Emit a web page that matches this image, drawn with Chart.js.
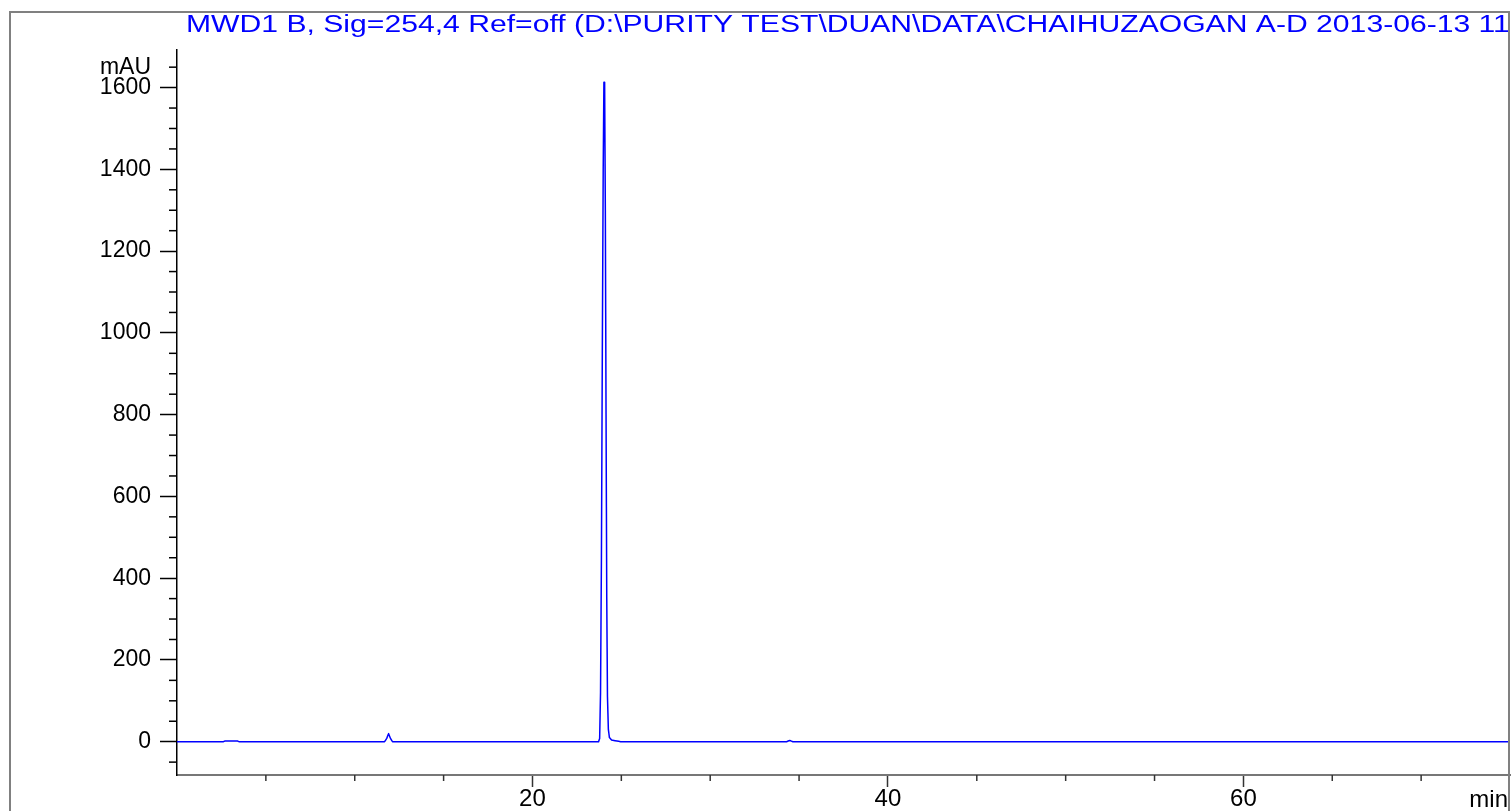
<!DOCTYPE html>
<html>
<head>
<meta charset="utf-8">
<title>MWD1 B chromatogram</title>
<script src="https://cdn.jsdelivr.net/npm/chart.js@4/dist/chart.umd.min.js"></script>
<style>
  html, body { margin: 0; padding: 0; background: #fff; }
</style>
</head>
<body>
<canvas id="chromatogram" width="1511" height="811"></canvas>
<script>
const titleText = 'MWD1 B, Sig=254,4 Ref=off (D:\\PURITY TEST\\DUAN\\DATA\\CHAIHUZAOGAN A-D 2013-06-13 11';
const yUnit = 'mAU';
const xUnit = 'min';

// retention time (min) and signal (mAU)
const times  = [0, 2.6, 2.7, 3.4, 3.5, 11.68, 11.8, 11.9, 12.0, 12.12,
                23.72, 23.78, 23.83, 23.88, 23.93, 23.98, 24.02, 24.06, 24.1, 24.14,
                24.18, 24.22, 24.27, 24.33, 24.45, 24.85, 24.96, 34.3, 34.48, 34.65, 75];
const signal = [0, 0, 1.5, 1.5, 0, 0, 8, 20, 9, 0,
                0, 8, 120, 450, 950, 1400, 1613, 1613, 1300, 800,
                350, 110, 30, 10, 4, 1, 0, 0, 3, 0, 0];

// axis ticks
const yTicks = [-50, 0, 50, 100, 150, 200, 250, 300, 350, 400, 450, 500, 550, 600, 650, 700, 750, 800,
                850, 900, 950, 1000, 1050, 1100, 1150, 1200, 1250, 1300, 1350, 1400, 1450, 1500, 1550, 1600, 1650];
const yLabelTicks = [0, 200, 400, 600, 800, 1000, 1200, 1400, 1600];
const xTicks = [5, 10, 15, 20, 25, 30, 35, 40, 45, 50, 55, 60, 65, 70];
const xLabelTicks = [20, 40, 60];

Chart.defaults.font.family = '"Liberation Sans", Arial, sans-serif';
Chart.defaults.color = '#000';

// short ticks, title, unit label and outer frame
const chromFrame = {
    id: 'chromFrame',
    afterDraw(chart) {
        const { ctx, chartArea, scales: { x, y } } = chart;
        ctx.save();

        ctx.lineWidth = 1.5;
        ctx.strokeStyle = '#000';
        y.ticks.forEach(t => {
            if (yLabelTicks.includes(t.value)) return;
            const py = y.getPixelForValue(t.value);
            ctx.beginPath();
            ctx.moveTo(chartArea.left - 8, py);
            ctx.lineTo(chartArea.left, py);
            ctx.stroke();
        });
        ctx.strokeStyle = '#333';
        x.ticks.forEach(t => {
            if (xLabelTicks.includes(t.value)) return;
            const px = x.getPixelForValue(t.value);
            ctx.beginPath();
            ctx.moveTo(px, chartArea.bottom);
            ctx.lineTo(px, chartArea.bottom + 6);
            ctx.stroke();
        });

        ctx.fillStyle = '#000';
        ctx.font = '24px "Liberation Sans", Arial, sans-serif';
        ctx.textAlign = 'right';
        ctx.textBaseline = 'alphabetic';
        ctx.fillText(xUnit, 1508, chartArea.bottom + 32);

        // title is printed wide in the original, so stretch it sideways
        ctx.save();
        ctx.beginPath();
        ctx.rect(0, 0, 1508, 60);
        ctx.clip();
        ctx.translate(186, 32);
        ctx.scale(1.31, 1);
        ctx.fillStyle = '#0000ff';
        ctx.font = '23px "Liberation Sans", Arial, sans-serif';
        ctx.textAlign = 'left';
        ctx.fillText(titleText, 0, 0);
        ctx.restore();

        ctx.strokeStyle = '#808080';
        ctx.lineWidth = 2;
        ctx.strokeRect(10, 12, 1499, 830);
        ctx.restore();
    }
};

const ctxChrom = document.getElementById('chromatogram').getContext('2d');

new Chart(ctxChrom, {
    type: 'line',
    data: {
        datasets: [{
            label: 'MWD1 B',
            data: times.map((t, i) => ({ x: t, y: signal[i] })),
            borderColor: '#0000ff',
            borderWidth: 1.5,
            borderJoinStyle: 'round',
            pointRadius: 0,
            // tiny tension keeps lines straight but avoids the per-pixel fast path,
            // which leaves stubs on the narrow main peak
            tension: 0.0001,
            fill: false
        }]
    },
    options: {
        responsive: false,
        animation: false,
        devicePixelRatio: 1,
        layout: { padding: { top: 50, right: 1, bottom: 0, left: 0 } },
        plugins: {
            legend: { display: false },
            tooltip: { enabled: false }
        },
        scales: {
            x: {
                type: 'linear',
                min: 0,
                max: 75,
                afterBuildTicks: scale => { scale.ticks = xTicks.map(v => ({ value: v })); },
                afterFit: scale => { scale.height = 36; },
                border: { color: '#777', width: 2 },
                grid: {
                    drawOnChartArea: false,
                    tickLength: 12,
                    tickWidth: 1.5,
                    tickColor: c => xLabelTicks.includes(c.tick.value) ? '#333' : 'transparent'
                },
                ticks: {
                    autoSkip: false,
                    maxRotation: 0,
                    padding: 0,
                    font: { size: 24, lineHeight: 1 },
                    callback: v => xLabelTicks.includes(v) ? String(v) : ''
                }
            },
            y: {
                type: 'linear',
                min: -81.5,
                max: 1692,
                afterBuildTicks: scale => { scale.ticks = yTicks.map(v => ({ value: v })); },
                afterFit: scale => { scale.width = 177; },
                border: { color: '#000', width: 1.5 },
                grid: {
                    drawOnChartArea: false,
                    tickLength: 17,
                    tickWidth: 1.5,
                    tickColor: c => yLabelTicks.includes(c.tick.value) ? '#000' : 'transparent'
                },
                ticks: {
                    autoSkip: false,
                    padding: 9,
                    font: { size: 23 },
                    callback: v => yLabelTicks.includes(v) ? String(v) : (v === 1650 ? yUnit : '')
                }
            }
        }
    },
    plugins: [chromFrame]
});
</script>
</body>
</html>
